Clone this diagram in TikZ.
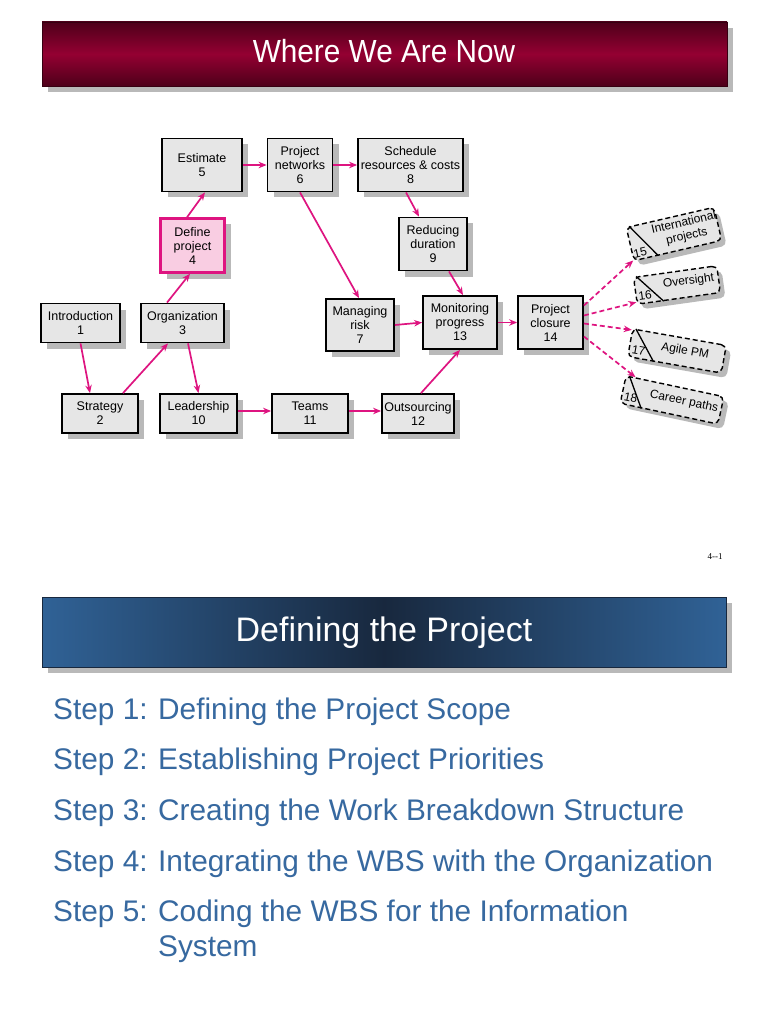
\documentclass[tikz,border=0pt]{standalone}
\usepackage{fontspec}
\setmainfont{Liberation Sans}
\newfontfamily\timesf{Liberation Serif}
\usetikzlibrary{arrows.meta,shadows,calc}
\definecolor{pk}{RGB}{222,20,128}
\definecolor{pkfill}{RGB}{249,205,226}
\definecolor{boxgray}{RGB}{230,230,230}
\definecolor{shgray}{RGB}{185,185,185}
\definecolor{rdA}{RGB}{78,0,26}
\definecolor{rdB}{RGB}{148,0,50}
\definecolor{blA}{RGB}{48,98,150}
\definecolor{blB}{RGB}{24,40,62}
\definecolor{stepblue}{RGB}{55,105,160}
\begin{document}
\begin{tikzpicture}[x=1pt,y=-1pt,
  box/.style={draw=black, line width=1.8pt, fill=boxgray, align=center,
    font=\fontsize{12.5}{14}\selectfont, inner sep=1pt,
    drop shadow={shadow xshift=6pt, shadow yshift=-6pt, fill=shgray, opacity=1}},
  defbox/.style={box, draw=pk, fill=pkfill, line width=2.4pt},
  dbox/.style={draw=black, dash pattern=on 5pt off 3pt, line width=1.4pt,
    rounded corners=5pt, fill=boxgray,
    drop shadow={shadow xshift=5pt, shadow yshift=-5pt, fill=shgray, opacity=1}},
  dlab/.style={font=\fontsize{12}{13.5}\selectfont, align=center, inner sep=0pt},
  divl/.style={draw=black, line width=1.3pt},
  arr/.style={draw=pk, line width=1.7pt, -{Stealth[length=8pt,width=6.5pt]}},
  darr/.style={arr, dash pattern=on 5pt off 3pt},
  stxt/.style={text=stepblue, font=\fontsize{29.8}{34}\selectfont, inner sep=0pt, anchor=base west}
]
\fill[white] (0,0) rectangle (768,1024);
\useasboundingbox (0,0) rectangle (768,1024);

% ---------- top banner ----------
\fill[shgray] (48,28) rectangle (733,92);
\shade[top color=rdA, bottom color=rdA, middle color=rdB] (42,22) rectangle (727,86);
\draw[rdA!70!black, line width=0.6pt] (42,22) rectangle (727,86);
\node[text=white, font=\fontsize{32}{38}\selectfont, xscale=0.93, anchor=base, inner sep=0pt] (title1) at (384,62.3) {Where We Are Now};

% ---------- diagram nodes ----------
\node[box, minimum width=80pt, minimum height=53pt] (n5) at (202,165) {Estimate\\5};
\node[box, minimum width=65pt, minimum height=53pt] (n6) at (300,165) {Project\\networks\\6};
\node[box, minimum width=105pt, minimum height=53pt] (n8) at (410.5,165) {Schedule\\resources \& costs\\8};
\node[defbox, minimum width=64pt, minimum height=54pt] (n4) at (192.5,245.5) {Define\\project\\4};
\node[box, minimum width=68pt, minimum height=53pt] (n9) at (433,244) {Reducing\\duration\\9};
\node[box, minimum width=79pt, minimum height=39pt] (n1) at (80.5,323) {Introduction\\1};
\node[box, minimum width=83pt, minimum height=39pt] (n3) at (182.5,323) {Organization\\3};
\node[box, minimum width=68pt, minimum height=52pt] (n7) at (360,325) {Managing\\risk\\7};
\node[box, minimum width=74pt, minimum height=53pt] (n13) at (460,322.5) {Monitoring\\progress\\13};
\node[box, minimum width=65pt, minimum height=53pt] (n14) at (550.5,322.5) {Project\\closure\\14};
\node[box, minimum width=76pt, minimum height=39pt] (n2) at (100,413.5) {Strategy\\2};
\node[box, minimum width=77pt, minimum height=39pt] (n10) at (198.5,413.5) {Leadership\\10};
\node[box, minimum width=76pt, minimum height=39pt] (n11) at (310,413.5) {Teams\\11};
\node[box, minimum width=72pt, minimum height=39pt] (n12) at (418,413.5) {Outsourcing\\12};

% ---------- dashed boxes ----------
\begin{scope}[shift={(674,234)}, rotate=13, transform shape]
  \node[dbox, minimum width=90pt, minimum height=34pt] (n15) at (0,0) {};
  \draw[divl] ($(n15.north west)!0.04!(n15.north east)$) -- ($(n15.south west)!0.28!(n15.south east)$);
  \node[dlab] (n15num) at (-37,10.5) {15};
  \node[dlab] (n15txt) at (12,-1.5) {International\\projects};
\end{scope}
\begin{scope}[shift={(677,285)}, rotate=8, transform shape]
  \node[dbox, minimum width=84pt, minimum height=27pt] (n16) at (0,0) {};
  \draw[divl] ($(n16.north west)!0.04!(n16.north east)$) -- ($(n16.south west)!0.32!(n16.south east)$);
  \node[dlab] (n16num) at (-33,6) {16};
  \node[dlab] (n16txt) at (12,-2) {Oversight};
\end{scope}
\begin{scope}[shift={(677,351)}, rotate=-10, transform shape]
  \node[dbox, minimum width=95pt, minimum height=28pt] (n17) at (0,0) {};
  \draw[divl] ($(n17.north west)!0.04!(n17.north east)$) -- ($(n17.south west)!0.28!(n17.south east)$);
  \node[dlab] (n17num) at (-38,6) {17};
  \node[dlab] (n17txt) at (8,-1) {Agile PM};
\end{scope}
\begin{scope}[shift={(672,400)}, rotate=-12, transform shape]
  \node[dbox, minimum width=100pt, minimum height=28pt] (n18) at (0,0) {};
  \draw[divl] ($(n18.north west)!0.04!(n18.north east)$) -- ($(n18.south west)!0.22!(n18.south east)$);
  \node[dlab] (n18num) at (-41,6) {18};
  \node[dlab] (n18txt) at (12,-1) {Career paths};
\end{scope}

% ---------- connectors ----------
\draw[arr] (n1.south) -- ([xshift=-10pt]n2.north);
\draw[arr] ([xshift=23pt]n2.north) -- ([xshift=-14.5pt]n3.south);
\draw[arr] ([xshift=5.5pt]n3.south) -- (n10.north);
\draw[arr] ([xshift=-15.5pt]n3.north) -- ([xshift=-2.5pt]n4.south);
\draw[arr] ([xshift=-5.5pt]n4.north) -- ([xshift=3pt]n5.south);
\draw[arr] (n5.east) -- (n6.west);
\draw[arr] (n6.east) -- (n8.west);
\draw[arr] (n6.south) -- ([xshift=-1pt]n7.north);
\draw[arr] ([xshift=-4.5pt]n8.south) -- ([xshift=-14pt]n9.north);
\draw[arr] ([xshift=16pt]n9.south) -- ([xshift=3pt]n13.north);
\draw[arr] (n7.east) -- (n13.west);
\draw[arr] (n13.east) -- (n14.west);
\draw[arr] ([yshift=2.5pt]n10.east) -- ([yshift=2.5pt]n11.west);
\draw[arr] ([yshift=2.5pt]n11.east) -- ([yshift=2.5pt]n12.west);
\draw[arr] ([xshift=3pt]n12.north) -- (n13.south);
\draw[darr] ([yshift=17pt]n14.east) -- (n15.200);
\draw[darr] ([yshift=7pt]n14.east) -- (n16.195);
\draw[darr] ([yshift=-1pt]n14.east) -- (n17.165);
\draw[darr] ([yshift=-14pt]n14.east) -- (n18.160);

% ---------- page number ----------
\node[font=\timesf\fontsize{9}{10}\selectfont, inner sep=0pt] (pnum) at (715,557) {4--1};

% ---------- second banner ----------
\fill[shgray] (48,603) rectangle (732,673);
\shade[left color=blA, right color=blA, middle color=blB] (42,597) rectangle (726,667);
\draw[blB, line width=0.6pt] (42,597) rectangle (726,667);
\node[text=white, font=\fontsize{34}{40}\selectfont, anchor=base, inner sep=0pt] (title2) at (384,641.7) {Defining the Project};

% ---------- steps ----------
\node[stxt] (s1a) at (53,719) {Step 1:};
\node[stxt] (s1b) at (158,719) {Defining the Project Scope};
\node[stxt] (s2a) at (53,769.7) {Step 2:};
\node[stxt] (s2b) at (158,769.7) {Establishing Project Priorities};
\node[stxt] (s3a) at (53,820.4) {Step 3:};
\node[stxt] (s3b) at (158,820.4) {Creating the Work Breakdown Structure};
\node[stxt] (s4a) at (53,871.1) {Step 4:};
\node[stxt] (s4b) at (158,871.1) {Integrating the WBS with the Organization};
\node[stxt] (s5a) at (53,921.8) {Step 5:};
\node[stxt] (s5b) at (158,921.8) {Coding the WBS for the Information};
\node[stxt] (s5c) at (158,956.5) {System};
\end{tikzpicture}
\end{document}
